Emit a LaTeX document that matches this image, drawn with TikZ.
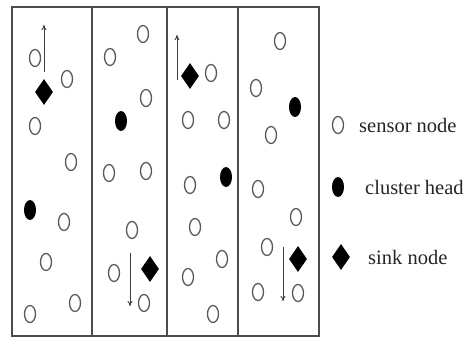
\documentclass[tikz,border=0pt]{standalone}
\usepackage{fontspec}
\setmainfont{Liberation Serif}
\newfontfamily\legendfont{Liberation Serif}
\usetikzlibrary{shapes.geometric,arrows.meta}
\begin{document}
\begin{tikzpicture}[x=1pt,y=-1pt,
  sensor/.style={ellipse,draw=black!65,line width=1.3pt,minimum width=11pt,minimum height=17pt,inner sep=0pt},
  head/.style={ellipse,fill=black,minimum width=12pt,minimum height=20pt,inner sep=0pt},
  sink/.style={diamond,fill=black,minimum width=18pt,minimum height=26pt,inner sep=0pt},
  panel/.style={draw=black!70,line width=1.3pt},
  move/.style={draw=black!75,line width=0.9pt,-{To[length=5pt,width=5pt]}},
  legend/.style={anchor=west,inner sep=0pt,font=\legendfont\fontsize{20.5}{24}\selectfont,text=black!85}]
\useasboundingbox (0,0) rectangle (466,339);
\fill[white] (0,0) rectangle (466,339);
% panels
\draw[panel] (12,7) rectangle (319,336);
\draw[panel] (92,7) -- (92,336);
\draw[panel] (167,7) -- (167,336);
\draw[panel] (238,7) -- (238,336);
% panel 1
\node[sensor] (p1a) at (35,58) {};
\node[sink] (k1) at (44,92) {};
\node[sensor] (p1b) at (67,79) {};
\node[sensor] (p1c) at (35,126) {};
\node[sensor] (p1d) at (71,162) {};
\node[head] (h1) at (30,210) {};
\node[sensor] (p1e) at (64,222) {};
\node[sensor] (p1f) at (46,262) {};
\node[sensor] (p1g) at (30,314) {};
\node[sensor] (p1h) at (75,303) {};
\coordinate (a1s) at (44,72);
\coordinate (a1e) at (44,25);
\draw[move] (a1s) -- (a1e);
% panel 2
\node[sensor] (p2a) at (143,34) {};
\node[sensor] (p2b) at (110,57) {};
\node[sensor] (p2c) at (146,98) {};
\node[head] (h2) at (121,121) {};
\node[sensor] (p2d) at (109,173) {};
\node[sensor] (p2e) at (146,171) {};
\node[sensor] (p2f) at (132,230) {};
\node[sensor] (p2g) at (114,273) {};
\node[sink] (k2) at (150,269) {};
\node[sensor] (p2h) at (144,303) {};
\coordinate (a2s) at (130,253);
\coordinate (a2e) at (130,306);
\draw[move] (a2s) -- (a2e);
% panel 3
\node[sink] (k3) at (190,76) {};
\node[sensor] (p3a) at (211,73) {};
\node[sensor] (p3b) at (188,120) {};
\node[sensor] (p3c) at (224,120) {};
\node[head] (h3) at (226,177) {};
\node[sensor] (p3d) at (190,185) {};
\node[sensor] (p3e) at (195,227) {};
\node[sensor] (p3f) at (222,259) {};
\node[sensor] (p3g) at (188,277) {};
\node[sensor] (p3h) at (213,314) {};
\coordinate (a3s) at (177,80);
\coordinate (a3e) at (177,35);
\draw[move] (a3s) -- (a3e);
% panel 4
\node[sensor] (p4a) at (280,41) {};
\node[sensor] (p4b) at (256,88) {};
\node[head] (h4) at (295,107) {};
\node[sensor] (p4c) at (271,135) {};
\node[sensor] (p4d) at (258,189) {};
\node[sensor] (p4e) at (296,217) {};
\node[sensor] (p4f) at (267,247) {};
\node[sink] (k4) at (298,259) {};
\node[sensor] (p4g) at (258,292) {};
\node[sensor] (p4h) at (298,293) {};
\coordinate (a4s) at (283,247);
\coordinate (a4e) at (283,301);
\draw[move] (a4s) -- (a4e);
% legend
\node[sensor] (ls) at (338,125) {};
\node[legend] (lst) at (359,125) {sensor node};
\node[head] (lh) at (338,187) {};
\node[legend] (lht) at (365,187) {cluster head};
\node[sink] (lk) at (341,257) {};
\node[legend] (lkt) at (368,257) {sink node};
\end{tikzpicture}
\end{document}
